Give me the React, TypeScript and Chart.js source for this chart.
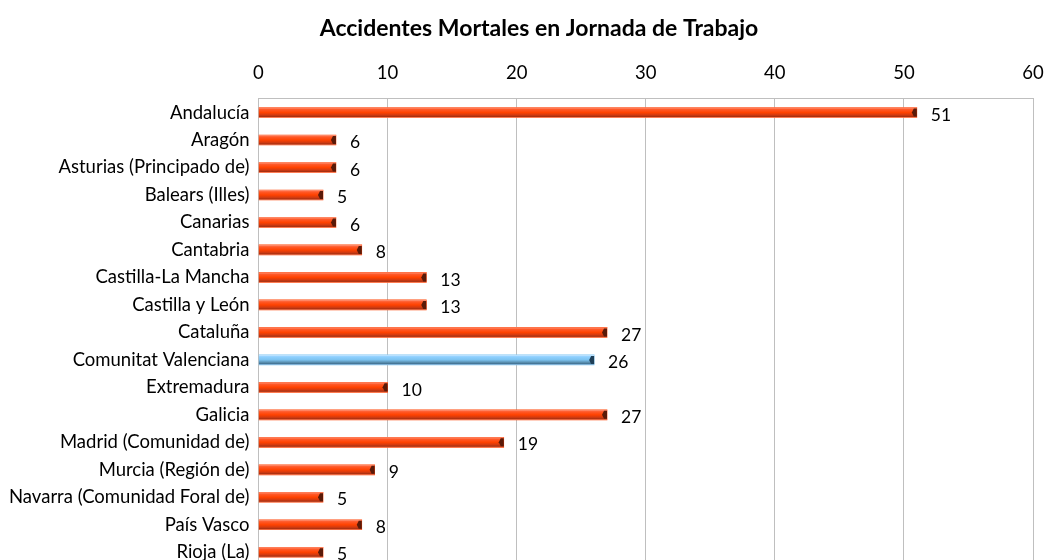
import React, { useEffect, useRef } from "react";
import { Chart, registerables } from "chart.js";

Chart.register(...registerables);

const title = "Accidentes Mortales en Jornada de Trabajo";
const categories = [
  "Andalucía",
  "Aragón",
  "Asturias (Principado de)",
  "Balears (Illes)",
  "Canarias",
  "Cantabria",
  "Castilla-La Mancha",
  "Castilla y León",
  "Cataluña",
  "Comunitat Valenciana",
  "Extremadura",
  "Galicia",
  "Madrid (Comunidad de)",
  "Murcia (Región de)",
  "Navarra (Comunidad Foral de)",
  "País Vasco",
  "Rioja (La)",
];
const values = [51, 6, 6, 5, 6, 8, 13, 13, 27, 26, 10, 27, 19, 9, 5, 8, 5];
const highlighted = ["Comunitat Valenciana"];
const xTicks = [0, 10, 20, 30, 40, 50, 60];

const FONT = "Lato, 'Open Sans', sans-serif";
const TITLE_FONT = `bold 23px ${FONT}`;

const orangeStops: [number, string][] = [
  [0, "#ff9a80"],
  [0.18, "#ff5a2a"],
  [0.5, "#ff4200"],
  [0.75, "#d23a10"],
  [0.9, "#a83010"],
  [1, "#ff8a6a"],
];
const blueStops: [number, string][] = [
  [0, "#cfeaff"],
  [0.18, "#8fd0ff"],
  [0.5, "#7cc3f0"],
  [0.75, "#5a8fb0"],
  [0.9, "#3f6f90"],
  [1, "#a8d8ff"],
];

const dataLabels = {
  id: "dataLabels",
  afterDatasetsDraw(chart: any) {
    const ctx = chart.ctx;
    const meta = chart.getDatasetMeta(0);
    ctx.save();
    meta.data.forEach((el: any, i: number) => {
      const isHi = highlighted.includes(categories[i]);
      const h = el.height;
      const top = el.y - h / 2;
      const g = ctx.createLinearGradient(0, top, 0, top + h);
      (isHi ? blueStops : orangeStops).forEach(([o, col]) => g.addColorStop(o, col));
      ctx.fillStyle = g;
      ctx.fillRect(el.base, top, el.x - el.base, h);
      ctx.fillStyle = isHi ? "#1f3f58" : "#5a1a08";
      ctx.beginPath();
      ctx.moveTo(el.x - 3, top + 1);
      ctx.lineTo(el.x, top + 1);
      ctx.lineTo(el.x, top + h - 1);
      ctx.lineTo(el.x - 3, top + h - 1);
      ctx.lineTo(el.x - 5, el.y);
      ctx.closePath();
      ctx.fill();
      ctx.fillStyle = "#000";
      ctx.font = `17.5px ${FONT}`;
      ctx.textAlign = "left";
      ctx.textBaseline = "middle";
      ctx.fillText(String(values[i]), el.x + 14, el.y + 2.5);
    });
    ctx.restore();
  },
};

const overlay = {
  id: "overlay",
  afterDraw(chart: any) {
    const { ctx, chartArea } = chart;
    ctx.save();
    ctx.strokeStyle = "#bfbfbf";
    ctx.lineWidth = 1;
    ctx.beginPath();
    ctx.moveTo(chartArea.left, chartArea.bottom + 0.5);
    ctx.lineTo(chartArea.right, chartArea.bottom + 0.5);
    ctx.stroke();
    const tb = chart.titleBlock;
    ctx.fillStyle = "#000";
    ctx.font = TITLE_FONT;
    ctx.textAlign = "center";
    ctx.textBaseline = "middle";
    const cy = tb ? (tb.top + tb.bottom) / 2 + (tb.options.padding.top - tb.options.padding.bottom) / 2 : 28;
    ctx.fillText(title, chart.width / 2 + 15, cy);
    ctx.restore();
  },
};

export default function App() {
  const ref = useRef<HTMLCanvasElement | null>(null);
  useEffect(() => {
    document.body.style.margin = "0";
    document.body.style.overflow = "hidden";
    const canvas = ref.current!;
    const chart = new Chart(canvas, {
      type: "bar",
      data: {
        labels: categories,
        datasets: [
          {
            data: values,
            barThickness: 10,
            borderWidth: 0,
            backgroundColor: values.map((_, i) =>
              highlighted.includes(categories[i]) ? "#7cc3f0" : "#ff4200"
            ),
          },
        ],
      },
      options: {
        indexAxis: "y",
        animation: false,
        responsive: false,
        maintainAspectRatio: false,
        layout: { padding: { left: 0, right: 15, top: 0, bottom: 10 } },
        plugins: {
          legend: { display: false },
          tooltip: { enabled: false },
          title: {
            display: true,
            text: title,
            color: "rgba(0,0,0,0)",
            font: { family: FONT, size: 23, weight: "bold" },
            padding: { top: 15, bottom: 4 },
          },
        },
        scales: {
          x: {
            position: "top",
            min: 0,
            max: 60,
            afterBuildTicks: (s: any) => {
              s.ticks = xTicks.map((v) => ({ value: v }));
            },
            afterFit: (s: any) => {
              s.paddingRight = 0;
              s.paddingLeft = 0;
            },
            ticks: {
              color: "#000",
              font: { family: FONT, size: 18.5 },
              padding: 15,
            },
            grid: { color: "#bfbfbf", drawTicks: false, lineWidth: 1 },
            border: { color: "#bfbfbf" },
          },
          y: {
            afterFit: (s: any) => {
              s.paddingTop = 0;
              s.paddingBottom = 0;
            },
            ticks: {
              color: "#000",
              font: { family: FONT, size: 18.5 },
              padding: 9,
              autoSkip: false,
            },
            grid: { display: false, drawTicks: false },
            border: { color: "#bfbfbf" },
          },
        },
      },
      plugins: [dataLabels, overlay],
    });
    return () => chart.destroy();
  }, []);
  return (
    <div style={{ width: 1048, height: 576 }}>
      <canvas ref={ref} width={1048} height={576} style={{ display: "block" }} />
    </div>
  );
}
